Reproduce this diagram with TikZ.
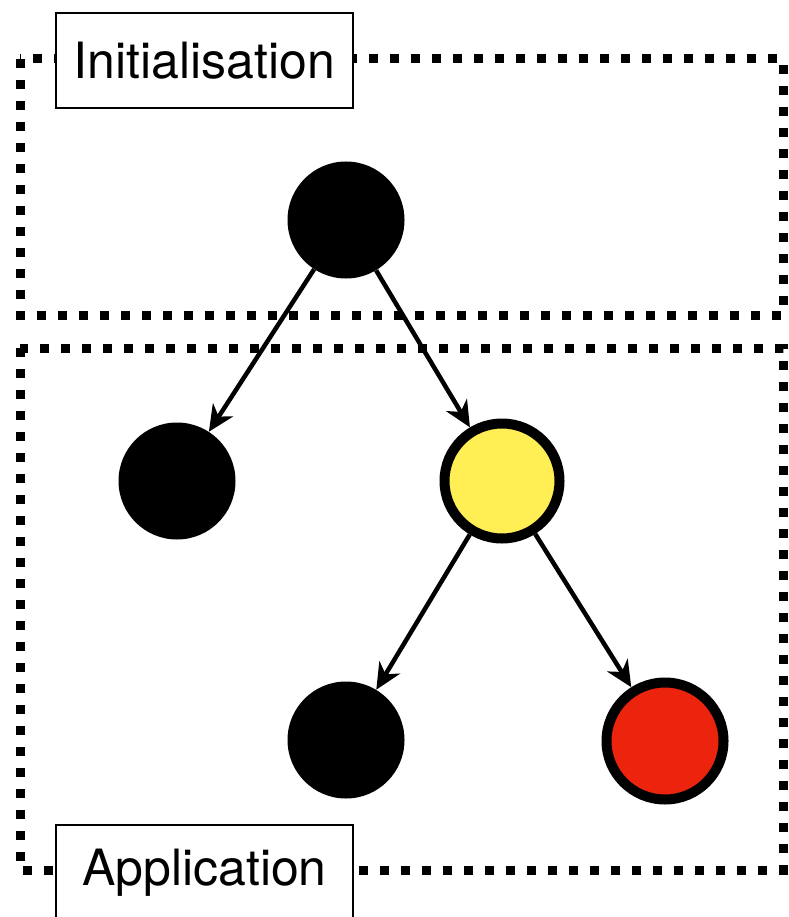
\documentclass[tikz,border=0pt]{standalone}
\usepackage{fontspec}
\setmainfont{TeX Gyre Heros}
\usetikzlibrary{arrows.meta}

\definecolor{stepyellow}{RGB}{255,238,84}
\definecolor{stepred}{RGB}{236,36,14}

\tikzset{
	phase/.style={line width=9pt, dash pattern=on 9pt off 12pt},
	label/.style={draw, line width=1.5pt, fill=white, minimum width=297pt, minimum height=95pt, inner sep=0pt, font=\fontsize{50}{60}\selectfont},
	done/.style={circle, fill=black, minimum size=117pt, inner sep=0pt},
	current/.style={circle, draw=black, line width=10pt, fill=stepyellow, minimum size=115pt, inner sep=0pt},
	failed/.style={circle, draw=black, line width=10pt, fill=stepred, minimum size=117pt, inner sep=0pt},
	edge/.style={-{Stealth[length=26pt, width=24pt, inset=8pt]}, line width=4.5pt}
}

\begin{document}
\begin{tikzpicture}[x=1pt, y=-1pt]
	\useasboundingbox (0, 0) rectangle (788, 917);

	% phases
	\draw[phase] (20, 59) rectangle (783, 315);
	\draw[phase] (20, 348) rectangle (783, 870);
	\node[label] (init) at (204.5, 60.5) {Initialisation};
	\node[label] (app) at (204.5, 872.5) {Application};

	% tree
	\node[done] (root) at (346, 220) {};
	\node[done] (left) at (177, 481) {};
	\node[current] (mid) at (502, 481) {};
	\node[done] (low) at (346, 740) {};
	\node[failed] (fail) at (665, 741) {};

	% edges
	\draw[edge] (root) -- (left);
	\draw[edge] (root) -- (mid);
	\draw[edge] (mid) -- (low);
	\draw[edge] (mid) -- (fail);

\end{tikzpicture}
\end{document}
